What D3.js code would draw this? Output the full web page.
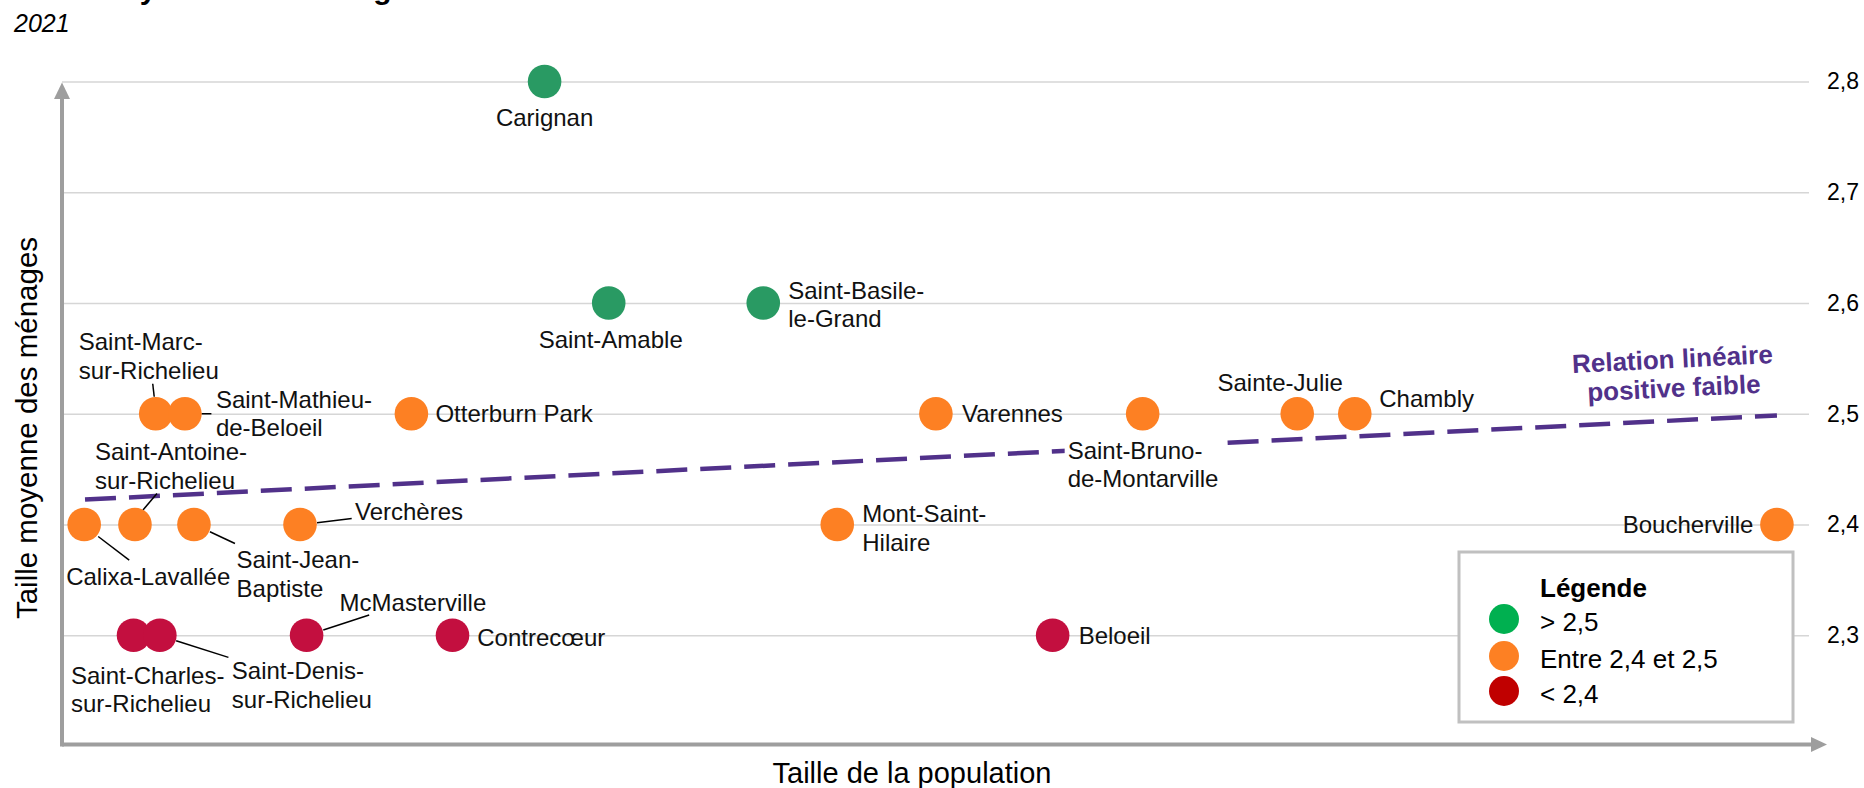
<!DOCTYPE html>
<html>
<head>
<meta charset="utf-8">
<script src="https://cdn.jsdelivr.net/npm/d3@7"></script>
<style>
  html, body { margin: 0; padding: 0; background: #fff; }
  svg { display: block; font-family: "Liberation Sans", Arial, sans-serif; }
</style>
</head>
<body>
<svg id="chart" width="1864" height="788"></svg>
<script>
// ---------- DATA ----------
const municipalities = [
  "Carignan", "Saint-Amable", "Saint-Basile-le-Grand",
  "Saint-Marc-sur-Richelieu", "Saint-Mathieu-de-Beloeil", "Otterburn Park", "Varennes",
  "Saint-Bruno-de-Montarville", "Sainte-Julie", "Chambly",
  "Calixa-Lavallée", "Saint-Antoine-sur-Richelieu", "Saint-Jean-Baptiste", "Verchères",
  "Mont-Saint-Hilaire", "Boucherville",
  "Saint-Charles-sur-Richelieu", "Saint-Denis-sur-Richelieu", "McMasterville", "Contrecœur", "Beloeil"
];
const population = [
  11740, 13300, 17060,
  2280, 2990, 8500, 21260,
  26290, 30050, 31450,
  540, 1775, 3210, 5790,
  18860, 41720,
  1740, 2380, 5950, 9500, 24100
];
const householdSize = [
  2.8, 2.6, 2.6,
  2.5, 2.5, 2.5, 2.5,
  2.5, 2.5, 2.5,
  2.4, 2.4, 2.4, 2.4,
  2.4, 2.4,
  2.3, 2.3, 2.3, 2.3, 2.3
];
// display labels (line breaks as in the chart)
const labelLines = [
  ["Carignan"], ["Saint-Amable"], ["Saint-Basile-", "le-Grand"],
  ["Saint-Marc-", "sur-Richelieu"], ["Saint-Mathieu-", "de-Beloeil"], ["Otterburn Park"], ["Varennes"],
  ["Saint-Bruno-", "de-Montarville"], ["Sainte-Julie"], ["Chambly"],
  ["Calixa-Lavallée"], ["Saint-Antoine-", "sur-Richelieu"], ["Saint-Jean-", "Baptiste"], ["Verchères"],
  ["Mont-Saint-", "Hilaire"], ["Boucherville"],
  ["Saint-Charles-", "sur-Richelieu"], ["Saint-Denis-", "sur-Richelieu"], ["McMasterville"], ["Contrecœur"], ["Beloeil"]
];
const yTicks = [2.3, 2.4, 2.5, 2.6, 2.7, 2.8];
const trendPopulation = [560, 41720];
const trendSize = [2.4225, 2.4985];
const legendLabels = ["> 2,5", "Entre 2,4 et 2,5", "< 2,4"];
const titleText = "Taille moyenne des ménages";
const subtitleText = "2021";
const yAxisTitle = "Taille moyenne des ménages";
const xAxisTitle = "Taille de la population";
const trendLabel = ["Relation linéaire", "positive faible"];

// ---------- STYLE / LAYOUT ----------
const dotColors = { high: "#299a63", mid: "#fd8023", low: "#c30f3f" };
const legendColors = ["#00b050", "#fd8023", "#c00000"];
function category(v) { return v > 2.5 ? "high" : (v >= 2.4 ? "mid" : "low"); }

// label placement relative to dot centre: dx, dy of first line, anchor, leader [x1,y1,x2,y2]
const labelLayout = {
  "Carignan": { dx: 0, dy: 36, anchor: "middle" },
  "Saint-Amable": { dx: 2, dy: 36, anchor: "middle" },
  "Saint-Basile-le-Grand": { dx: 25, dy: -13 },
  "Saint-Marc-sur-Richelieu": { dx: -77, dy: -72, leader: [-1.5, -17, -3, -30] },
  "Saint-Mathieu-de-Beloeil": { dx: 31, dy: -14.5, leader: [16.5, 0, 26.5, 0] },
  "Otterburn Park": { dx: 24, dy: 0 },
  "Varennes": { dx: 26, dy: 0 },
  "Saint-Bruno-de-Montarville": { dx: -75, dy: 36.5, bg: true },
  "Sainte-Julie": { dx: -17, dy: -31, anchor: "middle" },
  "Chambly": { dx: 24.5, dy: -15.5 },
  "Calixa-Lavallée": { dx: -18, dy: 51.5, leader: [14, 12, 45, 35.6] },
  "Saint-Antoine-sur-Richelieu": { dx: -40, dy: -72.7, leader: [8, -14.4, 22, -31] },
  "Saint-Jean-Baptiste": { dx: 42.6, dy: 35, leader: [16, 7.3, 41, 19] },
  "Verchères": { dx: 55, dy: -12.7, leader: [17, -1.7, 51.7, -6.1] },
  "Mont-Saint-Hilaire": { dx: 25, dy: -11 },
  "Boucherville": { dx: -23.5, dy: 0, anchor: "end" },
  "Saint-Charles-sur-Richelieu": { dx: -62.5, dy: 40 },
  "Saint-Denis-sur-Richelieu": { dx: 72, dy: 35.5, leader: [16.3, 5.5, 68.6, 22.1] },
  "McMasterville": { dx: 33, dy: -33, leader: [16.7, -5.2, 62.6, -20.2] },
  "Contrecœur": { dx: 24.7, dy: 2 },
  "Beloeil": { dx: 26, dy: 0 }
};

const svg = d3.select("#chart");
const plotLeft = 62, plotRight = 1809;

const x = d3.scaleLinear().domain([0, 42500]).range([plotLeft, plotRight]);
const y = d3.scaleLinear().domain([2.2, 2.8]).range([746, 81.5]);

// title (cut off at the top edge in the reference: only descenders show) and subtitle
svg.append("text").attr("x", 12).attr("y", -1)
  .attr("font-size", 30).attr("font-weight", "bold").attr("fill", "#000")
  .text(titleText);
svg.append("text").attr("x", 14).attr("y", 32)
  .attr("font-size", 25).attr("font-style", "italic").attr("fill", "#000")
  .text(subtitleText);

// gridlines + right tick labels via axis
const yAxis = d3.axisRight(y).tickValues(yTicks)
  .tickSize(-(plotRight - plotLeft))
  .tickFormat(d => d3.format(".1f")(d).replace(".", ","));
const gy = svg.append("g").attr("transform", `translate(${plotRight},0)`).call(yAxis);
gy.select(".domain").remove();
gy.selectAll(".tick line").attr("stroke", "#d6d6d6").attr("stroke-width", 1.6);
gy.selectAll(".tick text").attr("x", 18).attr("font-size", 23)
  .attr("fill", "#000").attr("font-family", "Liberation Sans, Arial, sans-serif");

// axes with arrowheads
const axisColor = "#9e9e9e";
const x0 = plotLeft, yBase = y(2.2) - 1.5;
svg.append("line").attr("x1", x0).attr("x2", 1812).attr("y1", yBase).attr("y2", yBase)
  .attr("stroke", axisColor).attr("stroke-width", 4);
svg.append("path")
  .attr("d", `M1827,${yBase} L1811,${yBase - 7.5} L1811,${yBase + 7.5} Z`)
  .attr("fill", axisColor);
svg.append("line").attr("x1", x0).attr("x2", x0).attr("y1", yBase + 2).attr("y2", 97)
  .attr("stroke", axisColor).attr("stroke-width", 4);
svg.append("path")
  .attr("d", `M${x0},82.5 L${x0 - 8},99 L${x0 + 8},99 Z`)
  .attr("fill", axisColor);

// axis titles
svg.append("text")
  .attr("transform", `translate(37,428) rotate(-90)`)
  .attr("text-anchor", "middle").attr("font-size", 29.5).attr("fill", "#000")
  .text(yAxisTitle);
svg.append("text").attr("x", 912).attr("y", 783)
  .attr("text-anchor", "middle").attr("font-size", 29).attr("fill", "#000")
  .text(xAxisTitle);

// trend line
const trendColor = "#51318a";
const trendData = trendPopulation.map((p, i) => [p, trendSize[i]]);
svg.append("path").datum(trendData)
  .attr("d", d3.line().x(d => x(d[0])).y(d => y(d[1])))
  .attr("fill", "none").attr("stroke", trendColor).attr("stroke-width", 4.5)
  .attr("stroke-dasharray", "31,13");

// trend annotation (rotated along the trend)
const angle = Math.atan2(y(trendSize[1]) - y(trendSize[0]), x(trendPopulation[1]) - x(trendPopulation[0])) * 180 / Math.PI;
const ann = svg.append("text")
  .attr("transform", `translate(1673,372) rotate(${angle})`)
  .attr("text-anchor", "middle").attr("font-size", 26).attr("font-weight", "bold")
  .attr("fill", trendColor);
trendLabel.forEach((t, i) => ann.append("tspan").attr("x", 0).attr("y", -13 + i * 29)
  .attr("dominant-baseline", "central").text(t));

// points data
const points = municipalities.map((name, i) => ({
  name, pop: population[i], size: householdSize[i], lines: labelLines[i]
}));

// leader lines
const lh = 28.7;
points.forEach(p => {
  const L = labelLayout[p.name];
  const cx = x(p.pop), cy = y(p.size);
  if (L.leader) {
    svg.append("line")
      .attr("x1", cx + L.leader[0]).attr("y1", cy + L.leader[1])
      .attr("x2", cx + L.leader[2]).attr("y2", cy + L.leader[3])
      .attr("stroke", "#000").attr("stroke-width", 1.5);
  }
});

// dots
svg.append("g").selectAll("circle").data(points).join("circle")
  .attr("cx", d => x(d.pop)).attr("cy", d => y(d.size)).attr("r", 16.8)
  .attr("fill", d => dotColors[category(d.size)]);

// labels
const labelG = svg.append("g").attr("font-size", 24).attr("fill", "#111");
points.forEach(p => {
  const L = labelLayout[p.name];
  const cx = x(p.pop), cy = y(p.size);
  const g = labelG.append("g");
  const t = g.append("text").attr("text-anchor", L.anchor || "start");
  p.lines.forEach((line, i) => {
    t.append("tspan").attr("x", cx + L.dx).attr("y", cy + L.dy + i * lh)
      .attr("dominant-baseline", "central").text(line);
  });
  if (L.bg) {
    const b = t.node().getBBox();
    g.insert("rect", "text").attr("x", b.x - 3).attr("y", b.y)
      .attr("width", b.width + 6).attr("height", b.height).attr("fill", "#fff");
  }
});

// legend
const lg = svg.append("g");
lg.append("rect").attr("x", 1459).attr("y", 552).attr("width", 334).attr("height", 170)
  .attr("fill", "#fff").attr("stroke", "#c0c0c0").attr("stroke-width", 3);
lg.append("text").attr("x", 1540).attr("y", 597).attr("font-size", 26)
  .attr("font-weight", "bold").attr("fill", "#000").text("Légende");
const legendY = [619, 656, 691];
legendLabels.forEach((lab, i) => {
  lg.append("circle").attr("cx", 1504).attr("cy", legendY[i]).attr("r", 15)
    .attr("fill", legendColors[i]);
  lg.append("text").attr("x", 1540).attr("y", legendY[i] + 3)
    .attr("dominant-baseline", "central").attr("font-size", 26).attr("fill", "#000").text(lab);
});
</script>
</body>
</html>
